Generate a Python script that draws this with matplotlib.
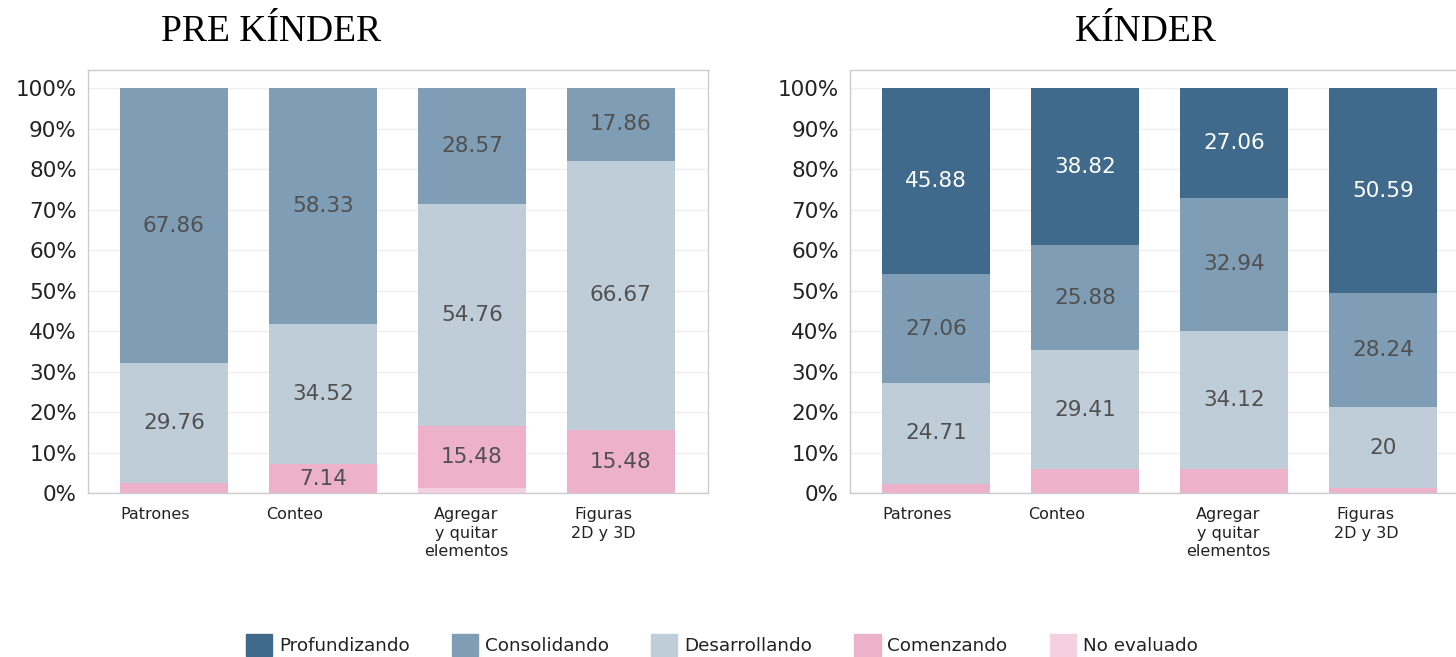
import numpy as np
import matplotlib
matplotlib.use("Agg")
import matplotlib.pyplot as plt
from matplotlib.ticker import PercentFormatter

# categories and series (percent)
categories = ["Patrones", "Conteo", "Agregar\ny quitar\nelementos", "Figuras\n2D y 3D"]
levels = ["Profundizando", "Consolidando", "Desarrollando", "Comenzando", "No evaluado"]

pre_profundizando = [0, 0, 0, 0]
pre_consolidando = [67.86, 58.33, 28.57, 17.86]
pre_desarrollando = [29.76, 34.52, 54.76, 66.67]
pre_comenzando = [2.38, 7.14, 15.48, 15.48]
pre_no_evaluado = [0, 0, 1.19, 0]

kin_profundizando = [45.88, 38.82, 27.06, 50.59]
kin_consolidando = [27.06, 25.88, 32.94, 28.24]
kin_desarrollando = [24.71, 29.41, 34.12, 20]
kin_comenzando = [2.35, 5.88, 5.88, 1.18]
kin_no_evaluado = [0, 0, 0, 0]

colors = {
    "Profundizando": "#3f6a8c",
    "Consolidando": "#7f9db4",
    "Desarrollando": "#bfcdd9",
    "Comenzando": "#eeb1ca",
    "No evaluado": "#f5d0de",
}
label_colors = {
    "Profundizando": "white",
    "Consolidando": "#505050",
    "Desarrollando": "#505050",
    "Comenzando": "#505050",
    "No evaluado": "#505050",
}
# small horizontal nudge of the category labels, as in the original
label_shift = [-0.125, -0.19, -0.04, -0.115]


def draw(ax, series):
    x = np.arange(len(categories))
    bottom = np.zeros(len(categories))
    # stack from bottom: No evaluado, Comenzando, Desarrollando, Consolidando, Profundizando
    for name in reversed(levels):
        vals = np.array(series[name], dtype=float)
        bars = ax.bar(x, vals, bottom=bottom, width=0.725, color=colors[name],
                      label=name, zorder=2)
        for b, v, b0 in zip(bars, vals, bottom):
            if v > 6:
                ax.text(b.get_x() + b.get_width() / 2, b0 + v / 2, f"{v:g}",
                        ha="center", va="center", fontsize=15.5,
                        color=label_colors[name], family="DejaVu Sans")
        bottom += vals
    ax.set_xlim(-0.577, 3.584)
    ax.set_ylim(0, 104.5)
    ax.set_yticks(np.arange(0, 101, 10))
    ax.yaxis.set_major_formatter(PercentFormatter(decimals=0))
    ax.tick_params(axis="y", length=0, labelsize=15.5, pad=8, labelcolor="#222222")
    ax.tick_params(axis="x", length=0, labelsize=11.5, pad=10, labelcolor="#222222")
    ax.set_xticks(x + np.array(label_shift))
    ax.set_xticklabels(categories, va="top", ha="center", linespacing=1.3)
    ax.grid(axis="y", color="#eeeeee", linewidth=1, zorder=0)
    ax.set_axisbelow(True)
    for s in ax.spines.values():
        s.set_color("#cccccc")
        s.set_linewidth(1)


fig = plt.figure(figsize=(14.56, 6.57), dpi=100)
ax1 = fig.add_axes([0.0604, 0.2496, 0.4258, 0.6438])
ax2 = fig.add_axes([0.5838, 0.2496, 0.4258, 0.6438])

draw(ax1, dict(zip(levels, [pre_profundizando, pre_consolidando, pre_desarrollando,
                            pre_comenzando, pre_no_evaluado])))
draw(ax2, dict(zip(levels, [kin_profundizando, kin_consolidando, kin_desarrollando,
                            kin_comenzando, kin_no_evaluado])))

fig.text(271 / 1456, 1 - 32 / 657, "PRE KÍNDER", ha="center", va="center",
         fontsize=27, family="Liberation Serif")
fig.text(1146 / 1456, 1 - 32 / 657, "KÍNDER", ha="center", va="center",
         fontsize=27, family="Liberation Serif")

handles = [plt.Rectangle((0, 0), 1, 1, color=colors[n]) for n in levels]
fig.legend(handles, levels, loc="center", bbox_to_anchor=(722 / 1456, 1 - 645 / 657),
           ncol=5, frameon=False, fontsize=13.2, handlelength=1.42, handleheight=1.42,
           columnspacing=2.3, handletextpad=0.38, labelcolor="#222222")

fig.savefig("out.png", dpi=100)
